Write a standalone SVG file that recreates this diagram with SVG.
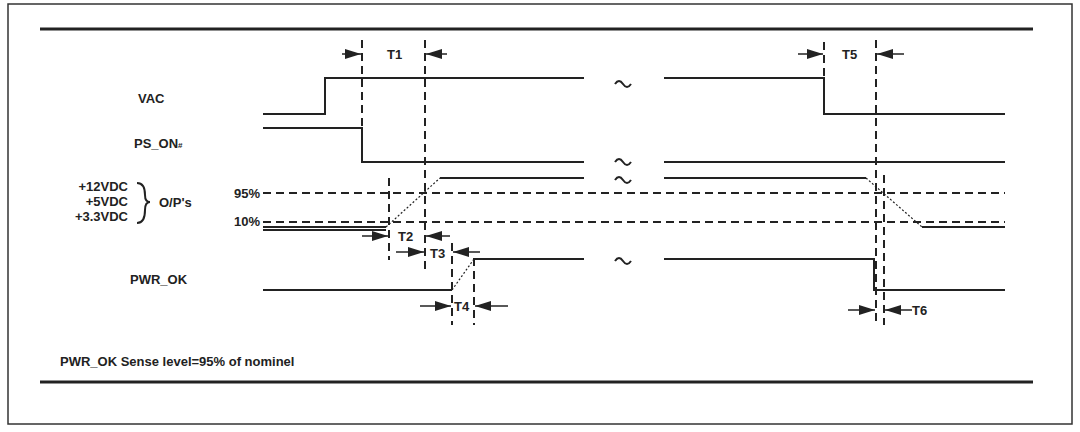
<svg xmlns="http://www.w3.org/2000/svg" width="1080" height="432" viewBox="0 0 1080 432">
<style>
text{font-family:"Liberation Sans",Arial,sans-serif;font-weight:bold;font-size:13px;fill:#222}
.s{stroke:#222;stroke-width:2;fill:none}
.d{stroke:#222;stroke-width:2;fill:none;stroke-dasharray:8,5}
.dt{stroke:#222;stroke-width:1.2;fill:none;stroke-dasharray:2,2}
.a{stroke:#222;stroke-width:1.5;fill:none;marker-end:url(#ah)}
.tl{stroke:#222;stroke-width:2;fill:none}
</style>
<defs><marker id="ah" markerWidth="16" markerHeight="10" refX="16" refY="5" orient="auto" markerUnits="userSpaceOnUse"><path d="M0,0 L16,5 L0,10 Z" fill="#222"/></marker></defs>
<rect x="0" y="0" width="1080" height="432" fill="#fff"/>
<rect x="8" y="4" width="1064" height="420" fill="none" stroke="#333" stroke-width="1.5"/>
<line x1="40" y1="29" x2="1033" y2="29" stroke="#222" stroke-width="3"/>
<line x1="40" y1="382" x2="1033" y2="382" stroke="#222" stroke-width="3"/>
<g id="labels">
<text x="138" y="103">VAC</text>
<text x="134" y="148">PS_ON<tspan font-size="8">#</tspan></text>
<text x="128" y="191" text-anchor="end">+12VDC</text>
<text x="128" y="206" text-anchor="end">+5VDC</text>
<text x="128" y="221" text-anchor="end">+3.3VDC</text>
<path class="s" stroke-width="1.5" d="M137,183 Q145,183 145,195 Q145,202 150,202 Q145,202 145,210 Q145,223 137,223"/>
<text x="159" y="207" font-size="10">O/P's</text>
<text x="234" y="198" font-size="10">95%</text>
<text x="234" y="226" font-size="10">10%</text>
<text x="130" y="284">PWR_OK</text>
<text x="60" y="366" font-size="11">PWR_OK  Sense level=95% of nominel</text>
</g>
<g id="signals">
<path class="s" d="M263,114 H325 V78 H584 M664,78 H824 V114 H1005"/>
<path class="s" d="M263,128 H362 V162 H584 M664,162 H1005"/>
<path class="s" d="M263,227 H386 M263,230 H386 M440,178 H584 M664,178 H866 M922,227 H1005"/>
<path class="dt" d="M386,227 L440,178 M866,178 L922,227"/>
<path class="s" d="M263,290 H452 M474,259 H584 M664,259 H874 V290 H1005"/>
<path class="dt" d="M452,290 L474,259"/>
<path class="tl" d="M615,84 q4,-6 8,0 t8,0 M615,162 q4,-6 8,0 t8,0 M615,180 q4,-6 8,0 t8,0 M615,261 q4,-6 8,0 t8,0"/>
</g>
<g id="connectors">
<path class="d" d="M263,193 H1005 M263,222 H1005"/>
<path class="d" d="M362,40 V163 M425,40 V273 M389,178 V260 M452,243 V325 M474,258 V325 M824,42 V82 M876,40 V325 M884,175 V325"/>
<line class="a" x1="342" y1="54" x2="361" y2="54"/><line class="a" x1="447" y1="54" x2="426" y2="54"/>
<text x="387" y="59">T1</text>
<line class="a" x1="362" y1="236" x2="388" y2="236"/><line class="a" x1="450" y1="236" x2="426" y2="236"/>
<text x="398" y="241">T2</text>
<line class="a" x1="396" y1="252" x2="424" y2="252"/><line class="a" x1="480" y1="252" x2="453" y2="252"/>
<text x="430" y="258">T3</text>
<line class="a" x1="420" y1="306" x2="451" y2="306"/><line class="a" x1="508" y1="306" x2="475" y2="306"/>
<text x="454" y="311">T4</text>
<line class="a" x1="798" y1="54" x2="823" y2="54"/><line class="a" x1="904" y1="54" x2="877" y2="54"/>
<text x="842" y="59">T5</text>
<line class="a" x1="848" y1="310" x2="875" y2="310"/><line class="a" x1="912" y1="310" x2="885" y2="310"/>
<text x="912" y="315">T6</text>
</g>
</svg>
